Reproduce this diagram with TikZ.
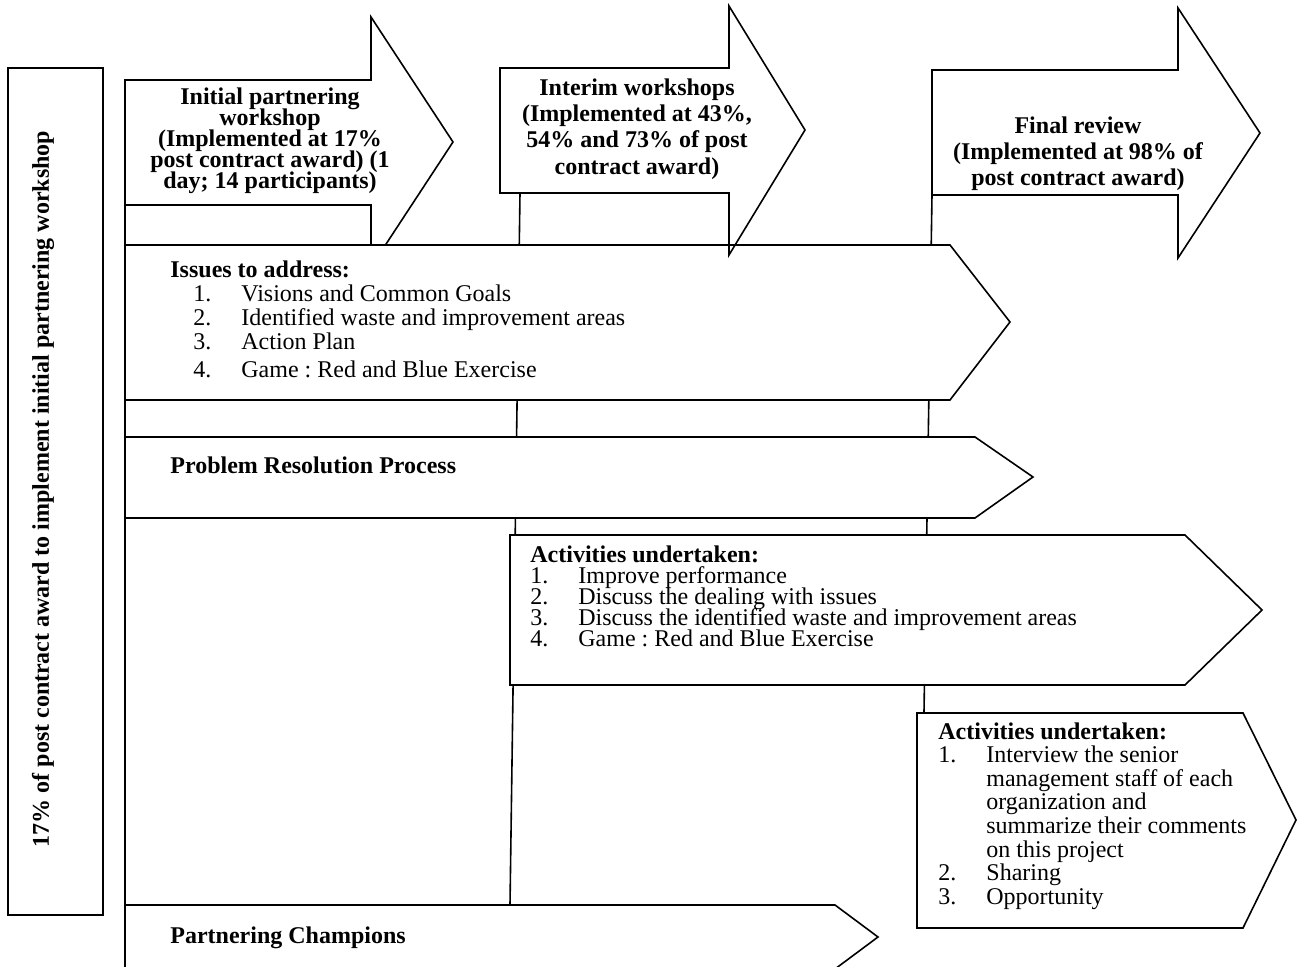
\documentclass[tikz,border=0pt]{standalone}
\usepackage{fontspec}
\setmainfont{Liberation Serif}
\newcommand\tightlines{\lineskiplimit=-20pt\relax\lineskip=0pt\relax}
\begin{document}
\frenchspacing
\begin{tikzpicture}[x=0.5pt,y=-0.5pt,
  shp/.style={draw, line width=0.8pt, line join=miter},
  wshp/.style={shp, fill=white},
  ln/.style={line width=0.8pt},
  hdr/.style={inner sep=0pt, align=center, font=\fontsize{12}{#1}\selectfont\bfseries\tightlines},
  lst/.style={inner sep=0pt, align=left, anchor=north west, font=\fontsize{12}{#1}\selectfont\tightlines},
  lbl/.style={inner sep=0pt, anchor=base west, font=\fontsize{12}{12}\selectfont\bfseries}]
\newcommand\numb[1]{\makebox[24pt][l]{#1}}
\useasboundingbox (0,0) rectangle (1297,967);
\clip (0,0) rectangle (1297,967);
% connector lines (behind)
\coordinate (l0t) at (125,80);
\coordinate (l0b) at (125,967);
\coordinate (l1t) at (520,193);
\coordinate (l1b) at (510,905);
\coordinate (l2t) at (932,195);
\coordinate (l2b) at (924,712);
\draw[ln] (l0t) -- (l0b);
\draw[ln] (l1t) -- (l1b);
\draw[ln] (l2t) -- (l2b);
% left box
\draw[shp] (8,68) rectangle (103,915);
\node[inner sep=0pt, rotate=90, font=\fontsize{12}{12}\selectfont\bfseries] (side) at (43,489)
  {17\% of post contract award to implement initial partnering workshop};
% initial arrow
\draw[wshp] (125,80) -- (371,80) -- (371,17) -- (453,142) -- (371,267) -- (371,205) -- (125,205) -- cycle;
\node[hdr=10.5] (init) at (270,141) {Initial partnering\\workshop\\(Implemented at 17\%\\post contract award) (1\\day; 14 participants)};
% issues box
\draw[wshp] (125,245) -- (950,245) -- (1010,322) -- (950,400) -- (125,400) -- cycle;
\node[lst=12] (issues) at (170,260) {\textbf{Issues to address:}\\
\hspace*{11.5pt}\numb{1.}Visions and Common Goals\\
\hspace*{11.5pt}\numb{2.}Identified waste and improvement areas\\
\hspace*{11.5pt}\numb{3.}Action Plan\\[2pt]
\hspace*{11.5pt}\numb{4.}Game : Red and Blue Exercise};
% interim arrow
\draw[shp] (500,68) -- (729,68) -- (729,6) -- (805,130) -- (729,255) -- (729,193) -- (500,193) -- cycle;
\node[hdr=13.2] (interim) at (637,129) {Interim workshops\\(Implemented at 43\%,\\54\% and 73\% of post\\contract award)};
% final arrow
\draw[shp] (932,70) -- (1178,70) -- (1178,8) -- (1260,133) -- (1178,258) -- (1178,195) -- (932,195) -- cycle;
\node[hdr=13] (final) at (1078,154) {Final review\\(Implemented at 98\% of\\post contract award)};
% problem resolution
\draw[wshp] (125,437) -- (975,437) -- (1033,477) -- (975,518) -- (125,518) -- cycle;
\node[lbl] (prp) at (170,474) {Problem Resolution Process};
% activities 1
\draw[wshp] (510,535) -- (1185,535) -- (1262,610) -- (1185,685) -- (510,685) -- cycle;
\node[lst=10.6] (act1) at (530,545) {\textbf{Activities undertaken:}\\
\numb{1.}Improve performance\\
\numb{2.}Discuss the dealing with issues\\
\numb{3.}Discuss the identified waste and improvement areas\\
\numb{4.}Game : Red and Blue Exercise};
% activities 2
\draw[wshp] (917,713) -- (1243,713) -- (1296,820) -- (1243,928) -- (917,928) -- cycle;
\node[lst=11.8] (act2) at (938,722) {\textbf{Activities undertaken:}\\
\numb{1.}Interview the senior\\
\numb{}management staff of each\\
\numb{}organization and\\
\numb{}summarize their comments\\
\numb{}on this project\\
\numb{2.}Sharing\\
\numb{3.}Opportunity};
% partnering champions
\draw[wshp] (125,905) -- (835,905) -- (878,937) -- (835,969) -- (125,969) -- cycle;
\node[lbl] (champ) at (170,943) {Partnering Champions};
\end{tikzpicture}
\end{document}
